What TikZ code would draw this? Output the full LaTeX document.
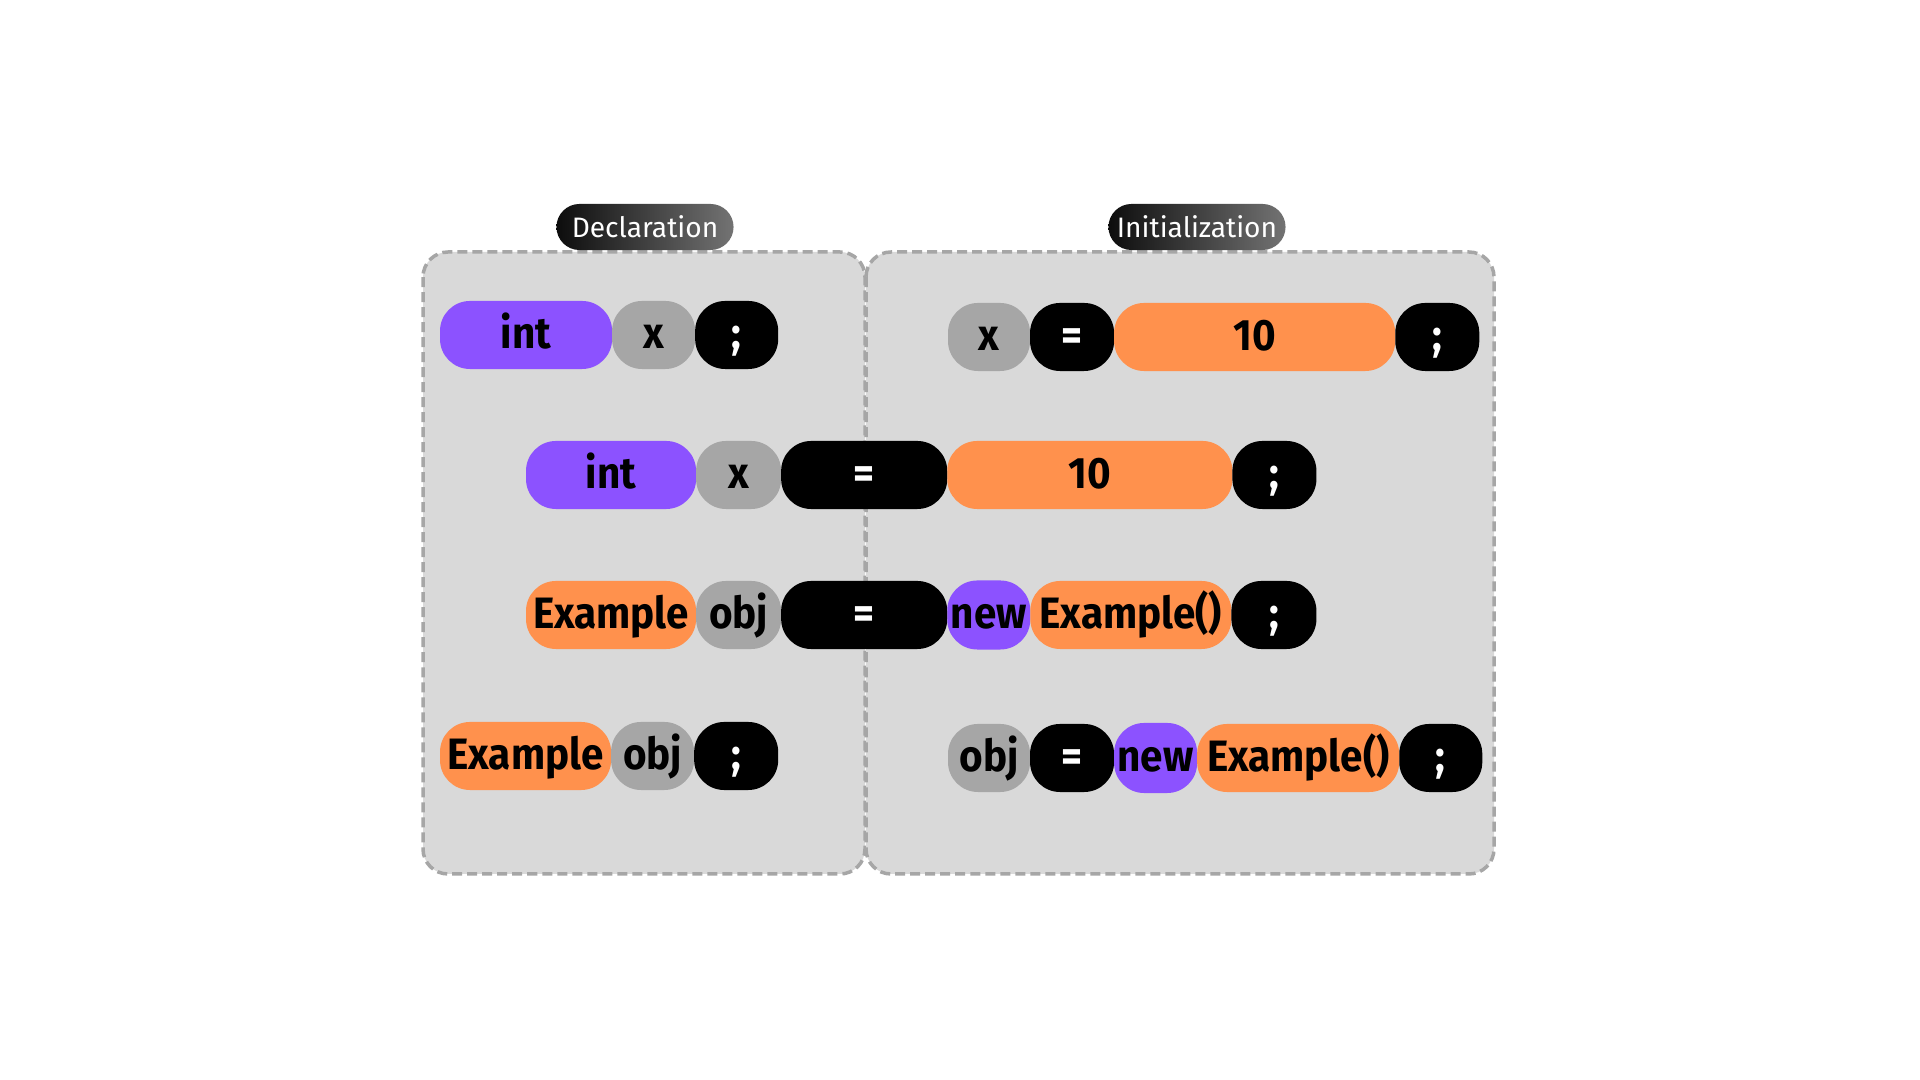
\documentclass[tikz,border=0pt]{standalone}
\usepackage{fontspec}
\setmainfont{Fira Sans}
\newfontfamily\pillfont[FakeStretch=0.92]{Fira Sans}
\usetikzlibrary{positioning}

\definecolor{kwpurple}{HTML}{8C52FF}
\definecolor{valorange}{HTML}{FF914D}
\definecolor{idgray}{HTML}{A6A6A6}
\definecolor{panelgray}{HTML}{D9D9D9}
\definecolor{dashgray}{HTML}{A6A6A6}
\definecolor{taggray}{HTML}{737373}

\tikzset{
  pill/.style={rounded corners=0.3cm, minimum height=0.68cm, inner sep=0pt, outer sep=0pt,
    text height=0.37cm, text depth=0.1cm,
    font=\pillfont\fontsize{12.5}{14}\selectfont\bfseries},
  kw/.style={pill, fill=kwpurple},
  val/.style={pill, fill=valorange},
  ident/.style={pill, fill=idgray},
  sym/.style={pill, fill=black, text=white},
  panel/.style={fill=panelgray, draw=dashgray, line width=0.035cm,
    dash pattern=on 0.1cm off 0.05cm, rounded corners=0.25cm},
  tag/.style={rounded corners=0.23cm, left color=black!95, right color=taggray,
    text=white, minimum width=1.77cm, minimum height=0.46cm, inner sep=0pt,
    font=\fontsize{8}{10}\selectfont}
}

\begin{document}
\begin{tikzpicture}[x=0.01cm, y=-0.01cm]
  \useasboundingbox (0,0) rectangle (1920,1080);

  % Panels
  \draw[panel] (423,252) rectangle (865,874);
  \draw[panel] (866,252) rectangle (1494,874);

  % Tags
  \node[tag] (decl) at (645,227) {Declaration};
  \node[tag] (init) at (1197,227) {Initialization};

  % Row 1: declaration of x
  \node[kw, minimum width=1.72cm, anchor=west] (dint) at (440,335) {int};
  \node[ident, minimum width=0.83cm, right=0pt of dint] (dx) {x};
  \node[sym, minimum width=0.83cm, right=0pt of dx] (dsemi) {;};

  % Row 1: initialization of x
  \node[ident, minimum width=0.82cm, anchor=west] (ix) at (948,337) {x};
  \node[sym, minimum width=0.84cm, right=0pt of ix] (ieq) {=};
  \node[val, minimum width=2.81cm, right=0pt of ieq] (iten) {10};
  \node[sym, minimum width=0.84cm, right=0pt of iten] (isemi) {;};

  % Row 2: both at once
  \node[kw, minimum width=1.70cm, anchor=west] (bint) at (526,475) {int};
  \node[ident, minimum width=0.85cm, right=0pt of bint] (bx) {x};
  \node[sym, minimum width=1.66cm, right=0pt of bx] (beq) {=};
  \node[val, minimum width=2.85cm, right=0pt of beq] (bten) {10};
  \node[sym, minimum width=0.84cm, right=0pt of bten] (bsemi) {;};

  % Row 3: object, both at once
  \node[val, minimum width=1.70cm, anchor=west] (otype) at (526,615) {Example};
  \node[ident, minimum width=0.85cm, right=0pt of otype] (oobj) {obj};
  \node[sym, minimum width=1.66cm, right=0pt of oobj] (oeq) {=};
  \node[kw, minimum width=0.83cm, minimum height=0.69cm, right=0pt of oeq] (onew) {new};
  \node[val, minimum width=2.01cm, right=0pt of onew] (octor) {Example()};
  \node[sym, minimum width=0.85cm, right=0pt of octor] (osemi) {;};

  % Row 4: declaration of obj
  \node[val, minimum width=1.71cm, anchor=west] (dtype) at (440,756) {Example};
  \node[ident, minimum width=0.83cm, right=0pt of dtype] (dobj) {obj};
  \node[sym, minimum width=0.84cm, right=0pt of dobj] (dsemi2) {;};

  % Row 4: initialization of obj
  \node[ident, minimum width=0.82cm, anchor=west] (iobj) at (948,758) {obj};
  \node[sym, minimum width=0.84cm, right=0pt of iobj] (ieq2) {=};
  \node[kw, minimum width=0.83cm, minimum height=0.70cm, right=0pt of ieq2] (inew) {new};
  \node[val, minimum width=2.02cm, right=0pt of inew] (ictor) {Example()};
  \node[sym, minimum width=0.83cm, right=0pt of ictor] (isemi2) {;};
\end{tikzpicture}
\end{document}
